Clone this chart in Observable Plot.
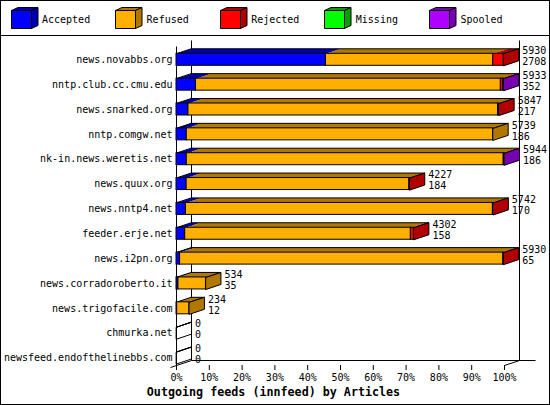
<!DOCTYPE html>
<html><head><meta charset="utf-8">
<script src="https://cdn.jsdelivr.net/npm/d3@7"></script>
<script src="https://cdn.jsdelivr.net/npm/@observablehq/plot@0.6"></script>
<style>
html,body{margin:0;padding:0;background:#fff;}
#chart{position:relative;width:548px;height:403px;border:1px solid #000;font-family:"DejaVu Sans Mono",monospace;background:#fff;overflow:hidden;color:#000}
#legend{position:relative;height:34px;border-bottom:1px solid #000;}
.cube{position:absolute;top:6px;display:block}
.ltext{position:absolute;top:13px;line-height:12px;font-size:10px;white-space:nowrap}
#title{height:17px;line-height:17px;text-align:center;font-weight:bold;font-size:11.7px;white-space:nowrap;position:relative;left:-1.5px}
svg{display:block}
</style></head><body>
<div id="chart"><div id="legend"></div><div id="plot"></div><div id="title"></div></div>
<script>
// ---- data ----
const hosts = ["news.novabbs.org","nntp.club.cc.cmu.edu","news.snarked.org","nntp.comgw.net","nk-in.news.weretis.net","news.quux.org","news.nntp4.net","feeder.erje.net","news.i2pn.org","news.corradoroberto.it","news.trigofacile.com","chmurka.net","newsfeed.endofthelinebbs.com"];
const offered  = [5930,5933,5847,5739,5944,4227,5742,4302,5930,534,234,0,0];
const accepted = [2708,352,217,186,186,184,170,158,65,35,12,0,0];
const refused  = [3032,5526,5610,5553,5744,4037,5564,4089,5859,499,222,0,0];
const rejected = [190,45,20,0,0,6,8,55,6,0,0,0,0];
const missing  = [0,0,0,0,0,0,0,0,0,0,0,0,0];
const spooled  = [0,10,0,0,14,0,0,0,0,0,0,0,0];
const seriesNames = ["Accepted","Refused","Rejected","Missing","Spooled"];
const frontColors = ["#0000ff","#ffaf00","#ff0000","#00ff00","#af00ff"];
const darkColors  = ["#0000b0","#b07800","#b00000","#00a000","#7800b0"];
const xTicks = [0,10,20,30,40,50,60,70,80,90,100];
const titleText = "Outgoing feeds (innfeed) by Articles";

// ---- layout ----
const W = 548, H = 348, ML = 175, MR = 45, MT = 23.3, MB = 19, IB = 7.5;
const DX = 15, DY = 5, HALF = 6;
const nRows = hosts.length;
const PX = (W - ML - MR) / 100;
const PY = (H - MB - IB - MT) / (nRows - 1);
const dxD = DX / PX, dyD = DY / PY, hD = HALF / PY;

const series = [accepted, refused, rejected, missing, spooled];
const maxOffered = d3.max(offered);
const pct = v => v / maxOffered * 100;

const segs = [], topPolys = [], outlinePolys = [], sidePolys = [], rows = [];
hosts.forEach((h, i) => {
  let cum = 0, last = -1;
  const yT = i - hD, yBk = yT - dyD, yBot = i + hD;
  series.forEach((s, k) => {
    const v = s[i];
    if (v > 0) {
      const x1 = pct(cum), x2 = pct(cum + v);
      segs.push({i, k, x1, x2});
      const key = `t${i}-${k}`, fill = darkColors[k];
      [[x1, yT], [x2, yT], [x2 + dxD, yBk], [x1 + dxD, yBk]].forEach(([x, y]) => topPolys.push({key, x, y, fill}));
      last = k;
    }
    cum += v;
  });
  const tot = pct(cum);
  rows.push({i, tot, offered: offered[i], accepted: accepted[i]});
  [[0, yT], [tot, yT], [tot + dxD, yBk], [dxD, yBk]].forEach(([x, y]) => outlinePolys.push({key: `o${i}`, x, y}));
  const sfill = last >= 0 ? darkColors[last] : "none";
  [[tot, yT], [tot + dxD, yBk], [tot + dxD, yBot - dyD], [tot, yBot]].forEach(([x, y]) => sidePolys.push({key: `s${i}`, x, y, fill: sfill}));
});

const yFl = (nRows - 1) + IB / PY;
const yBkFl = yFl - dyD;
const yTopBack = (4 - MT) / PY, yTopFront = (10 - MT) / PY;
const frame = [
  {x1: 0, y1: yTopFront, x2: 0, y2: yFl},
  {x1: dxD, y1: yTopBack, x2: dxD, y2: yBkFl},
  {x1: 100 + dxD, y1: yTopBack, x2: 100 + dxD, y2: yBkFl},
  {x1: dxD, y1: yBkFl, x2: 100 + dxD + 16 / PX, y2: yBkFl},
  {x1: -6 / PX, y1: yFl + dyD * 6 / DX, x2: dxD, y2: yBkFl},
  {x1: 100, y1: yFl, x2: 100 + dxD, y2: yBkFl}
];

const chart = Plot.plot({
  width: W, height: H,
  marginLeft: ML, marginRight: MR, marginTop: MT, marginBottom: MB,
  x: {domain: [0, 100]},
  y: {domain: [0, nRows - 1], reverse: true, insetBottom: IB},
  color: {type: "identity"},
  style: {fontFamily: "DejaVu Sans Mono", fontSize: "10px", color: "#000", background: "#fff", overflow: "visible"},
  marks: [
    Plot.link(frame, {x1: "x1", y1: "y1", x2: "x2", y2: "y2", stroke: "#000", strokeWidth: 1}),
    Plot.line(topPolys, {x: "x", y: "y", z: "key", fill: "fill", stroke: "none", curve: "linear-closed"}),
    Plot.line(outlinePolys, {x: "x", y: "y", z: "key", fill: "none", stroke: "#000", strokeWidth: 1, curve: "linear-closed"}),
    Plot.rect(segs, {x1: "x1", x2: "x2", y1: d => d.i - hD, y2: d => d.i + hD, fill: d => frontColors[d.k], stroke: "#000", strokeWidth: 1}),
    Plot.line(sidePolys, {x: "x", y: "y", z: "key", fill: "fill", stroke: "#000", strokeWidth: 1, curve: "linear-closed"}),
    Plot.text(rows, {x: "tot", y: "i", text: d => String(d.offered), dx: DX + 3.5, dy: -9, textAnchor: "start", fill: "#000"}),
    Plot.text(rows, {x: "tot", y: "i", text: d => String(d.accepted), dx: DX + 3.5, dy: 2, textAnchor: "start", fill: "#000"}),
    Plot.axisY(d3.range(nRows), {tickFormat: i => hosts[i], tickSize: 0, tickPadding: 4, label: null}),
    Plot.axisX(xTicks, {tickFormat: d => d + "%", tickSize: 5, tickPadding: 3.5, label: null})
  ]
});
document.getElementById("plot").appendChild(chart);

// legend
const legend = document.getElementById("legend");
seriesNames.forEach((name, k) => {
  const left = 9.5 + 104.6 * k;
  const ns = "http://www.w3.org/2000/svg";
  const svg = document.createElementNS(ns, "svg");
  svg.setAttribute("width", 29); svg.setAttribute("height", 24);
  svg.setAttribute("class", "cube");
  svg.style.left = left + "px";
  const poly = (pts, fill) => {
    const p = document.createElementNS(ns, "polygon");
    p.setAttribute("points", pts);
    p.setAttribute("fill", fill);
    p.setAttribute("stroke", "#000");
    p.setAttribute("stroke-width", 1);
    svg.appendChild(p);
  };
  poly("0.5,3.5 7,0.5 27,0.5 20.5,3.5", darkColors[k]);
  poly("20.5,3.5 27,0.5 27,18.5 20.5,21.5", darkColors[k]);
  poly("0.5,3.5 20.5,3.5 20.5,21.5 0.5,21.5", frontColors[k]);
  legend.appendChild(svg);
  const t = document.createElement("div");
  t.className = "ltext";
  t.style.left = (left + 31.5) + "px";
  t.textContent = name;
  legend.appendChild(t);
});
document.getElementById("title").textContent = titleText;
</script>
</body></html>
